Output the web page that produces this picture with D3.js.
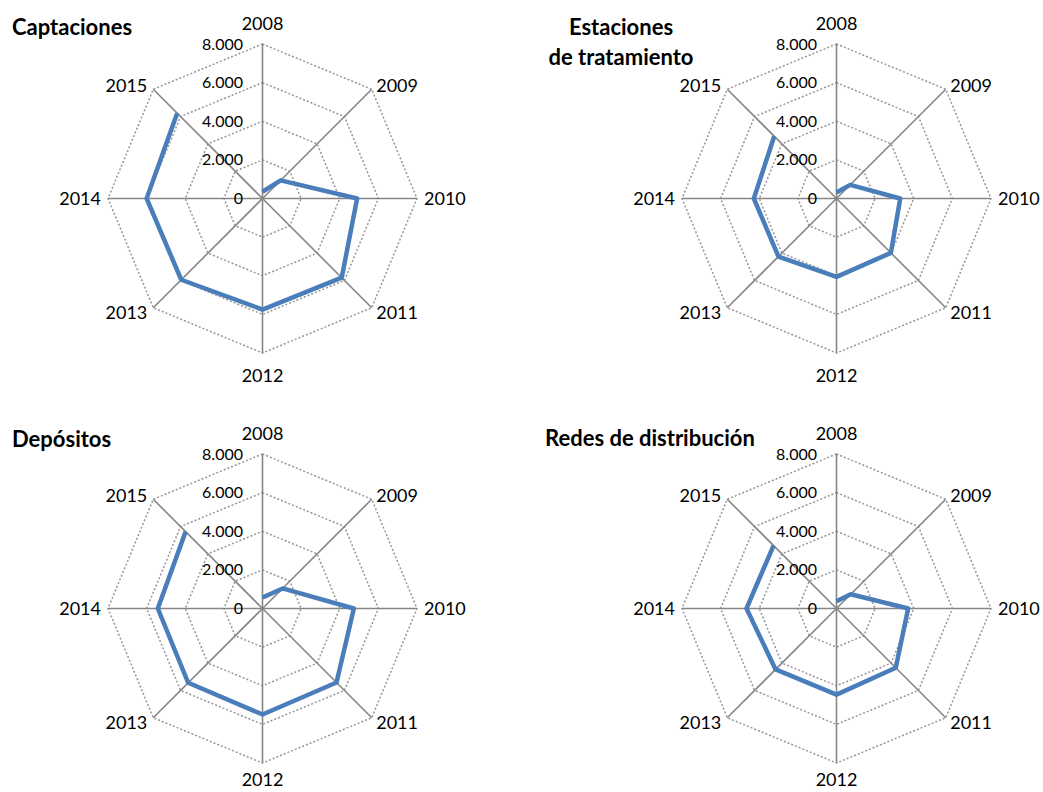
<!DOCTYPE html>
<html>
<head>
<meta charset="utf-8">
<script src="https://cdn.jsdelivr.net/npm/d3@7"></script>
<style>
  html, body { margin: 0; padding: 0; background: #fff; }
  svg { display: block; font-family: Lato, "Open Sans", sans-serif; }
</style>
</head>
<body>
<svg id="chart" width="1043" height="792"></svg>
<script>
// Years around each radar
const years = ["2008", "2009", "2010", "2011", "2012", "2013", "2014", "2015"];

// Radial axis ticks
const ticks = [0, 2000, 4000, 6000, 8000];
const tickLabels = ["0", "2.000", "4.000", "6.000", "8.000"];

// Series values per panel
const captaciones = [350, 1330, 4900, 5800, 5750, 5950, 6000, 6250];
const estaciones = [310, 1000, 3300, 3980, 4060, 4250, 4280, 4560];
const depositos = [570, 1470, 4730, 5420, 5490, 5440, 5420, 5630];
const redes = [370, 1040, 3710, 4340, 4460, 4460, 4660, 4610];

const panels = [
  { title: ["Captaciones"], values: captaciones, cx: 262.5, cy: 198.5, tx: 12, ty: 35, anchor: "start" },
  { title: ["Estaciones", "de tratamiento"], values: estaciones, cx: 836.5, cy: 198.5, tx: 621, ty: 35, anchor: "middle" },
  { title: ["Depósitos"], values: depositos, cx: 262.5, cy: 608.5, tx: 12, ty: 447, anchor: "start" },
  { title: ["Redes de distribución"], values: redes, cx: 836.5, cy: 608.5, tx: 545, ty: 446, anchor: "start" }
];

const W = 1043, H = 792;
const R = 154.5;
const r = d3.scaleLinear().domain([0, 8000]).range([0, R]);
const angle = d3.scalePoint().domain(years).range([0, 2 * Math.PI * 7 / 8]);

const svg = d3.select("#chart");

function pt(year, v) {
  const a = angle(year);
  return [Math.sin(a) * r(v), -Math.cos(a) * r(v)];
}

panels.forEach(p => {
  const g = svg.append("g").attr("transform", `translate(${p.cx},${p.cy})`);

  // dotted rings
  ticks.filter(t => t > 0).forEach(t => {
    g.append("path")
      .attr("d", d3.line()(years.map(y => pt(y, t))) + "Z")
      .attr("fill", "none")
      .attr("stroke", "#969696")
      .attr("stroke-width", 1.5)
      .attr("stroke-dasharray", "2,2");
  });

  // spokes
  g.selectAll("line.spoke").data(years).join("line")
    .attr("class", "spoke")
    .attr("x1", 0).attr("y1", 0)
    .attr("x2", d => pt(d, 8000)[0])
    .attr("y2", d => pt(d, 8000)[1])
    .attr("stroke", "#868686")
    .attr("stroke-width", 1.6);

  // series line
  g.append("path")
    .attr("d", d3.line()(years.map((y, i) => pt(y, p.values[i]))))
    .attr("fill", "none")
    .attr("stroke", "#4a7ebb")
    .attr("stroke-width", 4.5)
    .attr("stroke-linejoin", "round")
    .attr("stroke-linecap", "butt");

  // tick labels
  g.selectAll("text.tick").data(ticks).join("text")
    .attr("class", "tick")
    .attr("x", -19.5)
    .attr("y", d => -r(d))
    .attr("dy", "0.35em")
    .attr("text-anchor", "end")
    .attr("font-size", 16)
    .attr("fill", "#000")
    .text((d, i) => tickLabels[i]);

  // category labels
  g.selectAll("text.cat").data(years).join("text")
    .attr("class", "cat")
    .each(function (d) {
      const [x, y] = pt(d, 8000);
      const s = Math.sin(angle(d)), c = -Math.cos(angle(d));
      let lx = x, ly = y, anchor = "middle";
      if (Math.abs(s) < 0.01) {
        ly = y + (c < 0 ? -20.5 : 23);
        // keep the bottom label inside the drawing area
        ly = Math.min(ly, H - 12 - p.cy);
      } else if (Math.abs(c) < 0.01) {
        lx = x + (s > 0 ? 7 : -7);
        anchor = s > 0 ? "start" : "end";
      } else {
        lx = x + (s > 0 ? 4.5 : -6);
        ly = y + (c < 0 ? -4 : 4.5);
        anchor = s > 0 ? "start" : "end";
      }
      d3.select(this)
        .attr("x", lx).attr("y", ly)
        .attr("dy", "0.35em")
        .attr("text-anchor", anchor);
    })
    .attr("font-size", 18)
    .attr("fill", "#000")
    .text(d => d);

  // title
  const t = svg.append("text")
    .attr("x", p.tx).attr("y", p.ty)
    .attr("text-anchor", p.anchor)
    .attr("font-size", 22)
    .attr("font-weight", "bold")
    .attr("fill", "#000");
  p.title.forEach((line, i) => {
    t.append("tspan").attr("x", p.tx).attr("dy", i === 0 ? 0 : 30).text(line);
  });
});
</script>
</body>
</html>
